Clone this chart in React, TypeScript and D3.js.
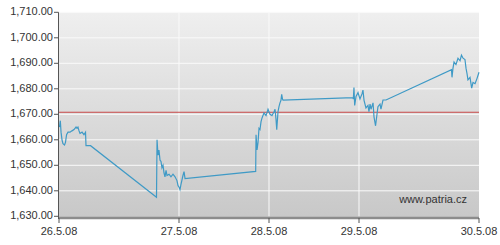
import React from "react";
import * as d3 from "d3";

// x values: fractional trading-day index (0 = 26.5.08 tick, 4 = 30.5.08 tick)
const times: number[] = [
  0.004, 0.011, 0.017, 0.025, 0.033, 0.046, 0.054, 0.063, 0.075, 0.092, 0.108, 0.125, 0.142, 0.15, 0.158, 0.167, 0.175, 0.192, 0.208, 0.221, 0.225, 0.263,
  0.8125, 0.817, 0.825, 0.833, 0.842, 0.85, 0.858, 0.867, 0.875, 0.883, 0.892, 0.9, 0.917, 0.933, 0.95, 0.967, 0.983, 0.992, 1.0, 1.011, 1.022, 1.044, 1.056, 1.067,
  1.852, 1.856, 1.867, 1.878, 1.889, 1.9, 1.911, 1.922, 1.944, 1.967, 1.989, 2.011, 2.033, 2.056, 2.067, 2.078, 2.086, 2.1, 2.111, 2.122, 2.133, 2.141, 2.15, 2.156,
  2.933, 2.937, 2.944, 2.952, 2.967, 2.989, 3.008, 3.025, 3.033, 3.042, 3.058, 3.075, 3.083, 3.092, 3.1, 3.117, 3.125, 3.138, 3.15, 3.158, 3.175, 3.183, 3.2, 3.225,
  3.771, 3.775, 3.783, 3.792, 3.808, 3.825, 3.842, 3.854, 3.867, 3.883, 3.892, 3.9, 3.908, 3.925, 3.939, 3.95, 3.967, 3.983, 4.0,
];
const prices: number[] = [
  1665, 1667.5, 1663, 1660, 1658.5, 1658, 1659, 1662, 1663, 1663, 1663.5, 1664, 1665, 1664.5, 1665, 1663.5, 1662.5, 1663, 1662, 1663, 1657.7, 1657.7,
  1637.5, 1660, 1654, 1656, 1652, 1651.5, 1649, 1650, 1647, 1645.5, 1648, 1646, 1646.5, 1645.5, 1646.5, 1645.5, 1644, 1642, 1641.5, 1640.5, 1642.5, 1646, 1647.5, 1644.8,
  1647.6, 1662, 1656, 1659, 1664.5, 1664, 1667, 1668.5, 1670.5, 1669.5, 1672, 1670, 1669.5, 1671, 1672, 1668, 1664, 1671, 1673, 1674.5, 1675.5, 1677.8, 1676, 1675.6,
  1676.5, 1676, 1680.5, 1673.5, 1677, 1678.5, 1676, 1678, 1679.5, 1675.5, 1672.5, 1673.5, 1671, 1674, 1672, 1674.5, 1669, 1665.5, 1670, 1673, 1674, 1672, 1675.6, 1675.6,
  1687.5, 1684.5, 1688, 1690.5, 1689.5, 1692, 1691, 1693.2, 1692, 1691.5, 1688, 1686, 1683.5, 1684.5, 1680.3, 1682.5, 1682, 1684, 1686.5,
];
const dayTicks: number[] = [0, 1, 2, 3, 4];
const dayLabels: string[] = ["26.5.08", "27.5.08", "28.5.08", "29.5.08", "30.5.08"];
const yTicks: number[] = [1630, 1640, 1650, 1660, 1670, 1680, 1690, 1700, 1710];
const referenceLevel = 1670.8;
const watermark = "www.patria.cz";

export default function App() {
  const W = 500, H = 245;
  const left = 59, right = 479, top = 12.3, bottom = 216.3;
  const x = d3.scaleLinear().domain(dayTicks).range([59, 179, 269, 359, 479]);
  const y = d3.scaleLinear().domain([1630, 1710]).range([bottom, top]);
  const fmt = d3.format(",.2f");
  const pts: [number, number][] = times.map((t, i) => [t, prices[i]]);
  const line = d3.line<[number, number]>().x((d) => x(d[0])).y((d) => y(d[1]));
  const font = "'Liberation Sans', Arial, sans-serif";
  return (
    <svg width={W} height={H} style={{ position: "absolute", left: 0, top: 0 }}>
      <defs>
        <linearGradient id="bg" x1="0" y1="0" x2="0" y2="1">
          <stop offset="0" stopColor="#efefef" />
          <stop offset="1" stopColor="#c8c8c8" />
        </linearGradient>
      </defs>
      <rect x={0} y={0} width={W} height={H} fill="#fff" />
      <rect x={left} y={top} width={right - left} height={bottom - top + 1} fill="url(#bg)" />
      {yTicks.slice(1).map((v) => (
        <line key={"gy" + v} x1={left} x2={right} y1={y(v)} y2={y(v)} stroke="#fafafa" strokeWidth={1} />
      ))}
      {dayTicks.slice(1, 4).map((d) => (
        <line key={"gx" + d} x1={x(d)} x2={x(d)} y1={top} y2={bottom} stroke="#fafafa" strokeWidth={1} />
      ))}
      <line x1={left} x2={right} y1={y(referenceLevel)} y2={y(referenceLevel)} stroke="#c84848" strokeWidth={1} />
      <path d={line(pts) || ""} fill="none" stroke="#3f9ac6" strokeWidth={1.2} />
      <text x={467} y={200} fontFamily={font} fontSize={11} fill="#333" textAnchor="end" dominantBaseline="middle">{watermark}</text>
      <line x1={left} x2={right} y1={218} y2={218} stroke="#8c8c8c" strokeWidth={2.5} />
      <line x1={58.5} x2={58.5} y1={top} y2={219} stroke="#555" strokeWidth={1} />
      {yTicks.map((v) => (
        <g key={"ty" + v}>
          <line x1={54} x2={58.5} y1={y(v)} y2={y(v)} stroke="#555" />
          <text x={53} y={y(v)} fontFamily={font} fontSize={11} fill="#333" textAnchor="end" dominantBaseline="middle">{fmt(v)}</text>
        </g>
      ))}
      {dayTicks.map((d, i) => (
        <g key={"tx" + d}>
          <line x1={x(d)} x2={x(d)} y1={218} y2={223} stroke="#555" />
          <text x={x(d)} y={232} fontFamily={font} fontSize={11} fill="#333" textAnchor="middle" dominantBaseline="middle">{dayLabels[i]}</text>
        </g>
      ))}
    </svg>
  );
}
